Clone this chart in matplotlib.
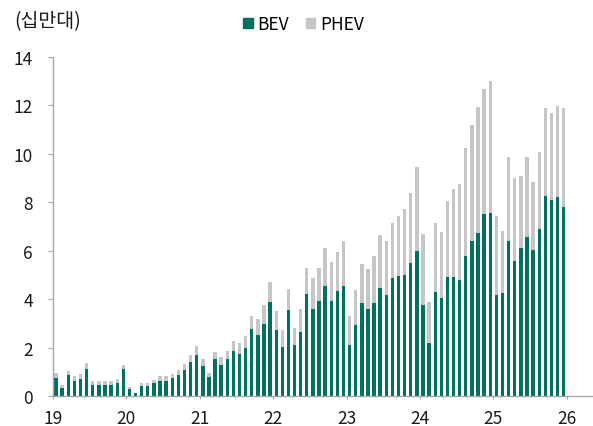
import numpy as np
import matplotlib
matplotlib.use("Agg")
import matplotlib.pyplot as plt
from matplotlib.patches import Patch

plt.rcParams["font.family"] = ["Noto Sans CJK KR", "DejaVu Sans"]

# monthly sales, Jan 2019 .. Dec 2025 (unit: 100k)
bev = [
    0.75, 0.36, 0.86, 0.64, 0.73, 1.12, 0.48, 0.48, 0.45, 0.45, 0.56, 1.12,  # 2019
    0.29, 0.12, 0.42, 0.42, 0.53, 0.64, 0.64, 0.75, 0.89, 1.08, 1.42, 1.72,  # 2020
    1.27, 0.81, 1.55, 1.29, 1.55, 1.85, 1.74, 1.98, 2.76, 2.54, 2.99, 3.91,  # 2021
    2.74, 2.04, 3.58, 2.11, 2.65, 4.24, 3.62, 3.93, 4.54, 3.93, 4.34, 4.54,  # 2022
    2.11, 2.95, 3.84, 3.59, 3.87, 4.47, 4.20, 4.88, 4.96, 4.99, 5.50, 5.98,  # 2023
    3.77, 2.19, 4.30, 4.04, 4.93, 4.92, 4.79, 5.79, 6.39, 6.72, 7.54, 7.58,  # 2024
    4.17, 4.25, 6.42, 5.58, 6.10, 6.57, 6.05, 6.92, 8.28, 8.08, 8.24, 7.80,  # 2025
]
total = [
    0.96, 0.46, 1.04, 0.84, 0.92, 1.37, 0.64, 0.64, 0.62, 0.64, 0.70, 1.29,
    0.40, 0.14, 0.56, 0.56, 0.67, 0.84, 0.84, 0.92, 1.08, 1.33, 1.70, 2.06,
    1.53, 0.96, 1.84, 1.61, 1.85, 2.28, 2.21, 2.48, 3.33, 3.17, 3.76, 4.73,
    3.52, 2.73, 4.44, 2.81, 3.61, 5.28, 4.88, 5.28, 6.10, 5.53, 5.97, 6.39,
    3.30, 4.38, 5.44, 5.24, 5.77, 6.64, 6.39, 7.16, 7.45, 7.71, 8.40, 9.47,
    6.68, 3.88, 7.13, 6.77, 8.04, 8.54, 8.78, 10.23, 11.21, 11.93, 12.67, 12.99,
    7.44, 6.80, 9.87, 9.02, 9.08, 9.87, 8.86, 10.10, 11.90, 11.69, 11.96, 11.90,
]
phev = [t - b for t, b in zip(total, bev)]
year_labels = ["19", "20", "21", "22", "23", "24", "25", "26"]

green = "#00705f"
grey = "#c6c6c6"

fig = plt.figure(figsize=(5.93, 4.27), dpi=100)
ax = fig.add_axes([53 / 593, 1 - 397.3 / 427, 540 / 593, (397.3 - 58) / 427])

x = np.arange(len(bev)) + 0.5
ax.bar(x, bev, width=0.55, color=green, linewidth=0)
ax.bar(x, phev, bottom=bev, width=0.55, color=grey, linewidth=0)

ax.set_xlim(0, 88.3)
ax.set_ylim(0, 14)
ax.set_xticks(np.arange(len(year_labels)) * 12)
ax.set_xticklabels(year_labels)
ax.set_yticks(range(0, 15, 2))

for side in ["top", "right"]:
    ax.spines[side].set_visible(False)
for side in ["left", "bottom"]:
    ax.spines[side].set_color("#a6a6a6")
    ax.spines[side].set_linewidth(1.0)
ax.tick_params(axis="y", length=3.5, color="#a6a6a6", pad=11, labelsize=12.5, labelcolor="#1a1a1a")
ax.tick_params(axis="x", length=2.5, color="#a6a6a6", pad=7, labelsize=12.5, labelcolor="#1a1a1a")

fig.text(14 / 593, 1 - 22 / 427, "(십만대)", fontsize=14, va="center", ha="left", color="#1a1a1a")

handles = [Patch(color=green, label="BEV"), Patch(color=grey, label="PHEV")]
fig.legend(handles=handles, loc="center left", bbox_to_anchor=(243 / 593, 1 - 25 / 427),
           ncol=2, frameon=False, fontsize=12.5, handlelength=0.55, handleheight=0.55,
           handletextpad=0.25, columnspacing=1.0, borderaxespad=0, borderpad=0)

fig.savefig("out.png", dpi=100)
